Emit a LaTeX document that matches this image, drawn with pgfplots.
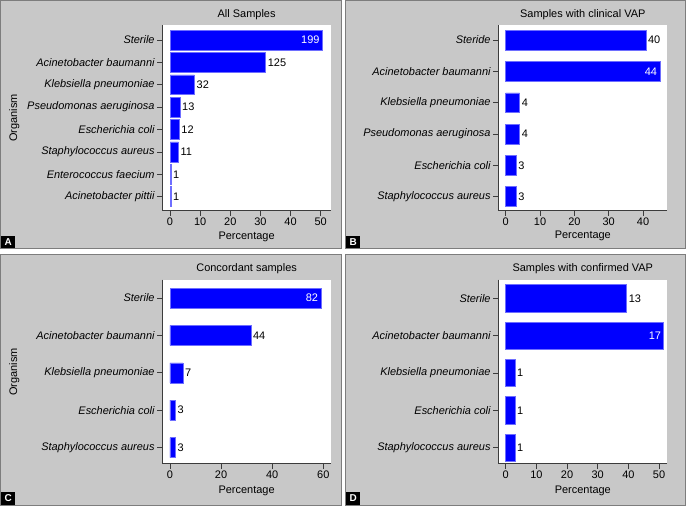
\documentclass[border=0pt]{standalone}
\usepackage{pgfplots}
\pgfplotsset{compat=1.18}
\usepackage{fontspec}
\setmainfont{Liberation Sans}
\definecolor{panelgrey}{RGB}{200,200,200}
\definecolor{panelborder}{RGB}{125,125,125}
\definecolor{barblue}{RGB}{0,0,255}
\definecolor{baredge}{RGB}{110,110,255}
\definecolor{axisgrey}{RGB}{60,60,60}
\newcommand{\fs}{\fontsize{11}{13}\selectfont}
\pgfplotsset{
  panel/.style={
    scale only axis, anchor=south west, clip=false,
    axis x line*=bottom, axis y line*=left,
    axis background/.style={fill=white},
    axis line style={axisgrey, line width=0.8bp},
    tick style={axisgrey, line width=0.7bp},
    tick align=outside, major tick length=5bp,
    y dir=reverse,
    /pgf/number format/assume math mode=true,
    xticklabel style={font=\fs, anchor=base, yshift=-9.8bp},
    yticklabel style={font=\fs\itshape, xshift=0.8bp},
  },
  outbar/.style={xbar, bar shift=0pt, fill=barblue, draw=baredge, line width=0.5bp,
    point meta=explicit symbolic, nodes near coords,
    nodes near coords style={anchor=west, inner sep=2bp, font=\fs, text=black}},
  inbar/.style={xbar, bar shift=0pt, fill=barblue, draw=baredge, line width=0.5bp,
    point meta=explicit symbolic, nodes near coords,
    nodes near coords style={anchor=east, inner sep=2.5bp, font=\fs, text=white}},
}
\begin{document}
\begin{tikzpicture}[x=1bp,y=1bp]
\path[use as bounding box] (0,0) rectangle (686,506);
% panels
\fill[panelgrey, draw=panelborder, line width=1bp] (0.5,257) rectangle (341,505.5);
\fill[panelgrey, draw=panelborder, line width=1bp] (345.5,257) rectangle (685.5,505.5);
\fill[panelgrey, draw=panelborder, line width=1bp] (0.5,0.5) rectangle (341,251);
\fill[panelgrey, draw=panelborder, line width=1bp] (345.5,0.5) rectangle (685.5,251);

% ---------- A ----------
\begin{axis}[panel, at={(162.3bp,295.3bp)}, width=168.7bp, height=185.7bp,
  xmin=-2.56, xmax=53.43, ymin=-0.67, ymax=7.625,
  xtick={0,10,20,30,40,50},
  ytick={0,1,2,3,4,5,6,7},
  yticklabels={Sterile,Acinetobacter baumanni,Klebsiella pneumoniae,Pseudomonas aeruginosa,Escherichia coli,Staphylococcus aureus,Enterococcus faecium,Acinetobacter pittii}]
\addplot[outbar, bar width=0.89] coordinates {(31.73,1) [125] (8.12,2) [32] (3.30,3) [13] (3.05,4) [12] (2.79,5) [11] (0.25,6) [1] (0.25,7) [1]};
\addplot[inbar, bar width=0.89] coordinates {(50.51,0) [199]};
\end{axis}

% ---------- B ----------
\begin{axis}[panel, at={(498.3bp,295.3bp)}, width=169bp, height=185.7bp,
  xmin=-2.16, xmax=47.08, ymin=-0.48, ymax=5.45,
  xtick={0,10,20,30,40},
  ytick={0,1,2,3,4,5},
  yticklabels={Steride,Acinetobacter baumanni,Klebsiella pneumoniae,Pseudomonas aeruginosa,Escherichia coli,Staphylococcus aureus}]
\addplot[outbar, bar width=0.63] coordinates {(40.82,0) [40] (4.08,2) [4] (4.08,3) [4] (3.06,4) [3] (3.06,5) [3]};
\addplot[inbar, bar width=0.63] coordinates {(44.90,1) [44]};
\end{axis}

% ---------- C ----------
\begin{axis}[panel, at={(162.3bp,42.3bp)}, width=168.7bp, height=184bp,
  xmin=-3.0, xmax=63.0, ymin=-0.49, ymax=4.43,
  xtick={0,20,40,60},
  ytick={0,1,2,3,4},
  yticklabels={Sterile,Acinetobacter baumanni,Klebsiella pneumoniae,Escherichia coli,Staphylococcus aureus}]
\addplot[outbar, bar width=0.535] coordinates {(31.65,1) [44] (5.04,2) [7] (2.16,3) [3] (2.16,4) [3]};
\addplot[inbar, bar width=0.535] coordinates {(58.99,0) [82]};
\end{axis}

% ---------- D ----------
\begin{axis}[panel, at={(498.3bp,42.3bp)}, width=169bp, height=184bp,
  xmin=-2.41, xmax=52.7, ymin=-0.5, ymax=4.43,
  xtick={0,10,20,30,40,50},
  ytick={0,1,2,3,4},
  yticklabels={Sterile,Acinetobacter baumanni,Klebsiella pneumoniae,Escherichia coli,Staphylococcus aureus}]
\addplot[outbar, bar width=0.73] coordinates {(39.39,0) [13] (3.03,2) [1] (3.03,3) [1] (3.03,4) [1]};
\addplot[inbar, bar width=0.73] coordinates {(51.52,1) [17]};
\end{axis}

% titles
\node[font=\fs, anchor=base] at (246.6,488.7) {All Samples};
\node[font=\fs, anchor=base] at (582.8,488.7) {Samples with clinical VAP};
\node[font=\fs, anchor=base] at (246.6,234.7) {Concordant samples};
\node[font=\fs, anchor=base] at (582.8,234.7) {Samples with confirmed VAP};
% x labels
\node[font=\fs, anchor=base] at (246.6,266.7) {Percentage};
\node[font=\fs, anchor=base] at (582.8,267) {Percentage};
\node[font=\fs, anchor=base] at (246.6,12.3) {Percentage};
\node[font=\fs, anchor=base] at (582.8,12.3) {Percentage};
% y labels
\node[font=\fs, anchor=base, rotate=90] at (17,388) {Organism};
\node[font=\fs, anchor=base, rotate=90] at (17,134) {Organism};
% panel letters
\foreach \l/\px/\py in {A/1.2/257.5, B/346.2/257.5, C/1.2/1.2, D/346.2/1.2}{
  \node[fill=black, text=white, font=\bfseries\fontsize{10}{10}\selectfont, minimum width=13.5bp, minimum height=12.5bp, inner sep=0pt, anchor=south west] at (\px,\py) {\l};
}
\end{tikzpicture}
\end{document}
